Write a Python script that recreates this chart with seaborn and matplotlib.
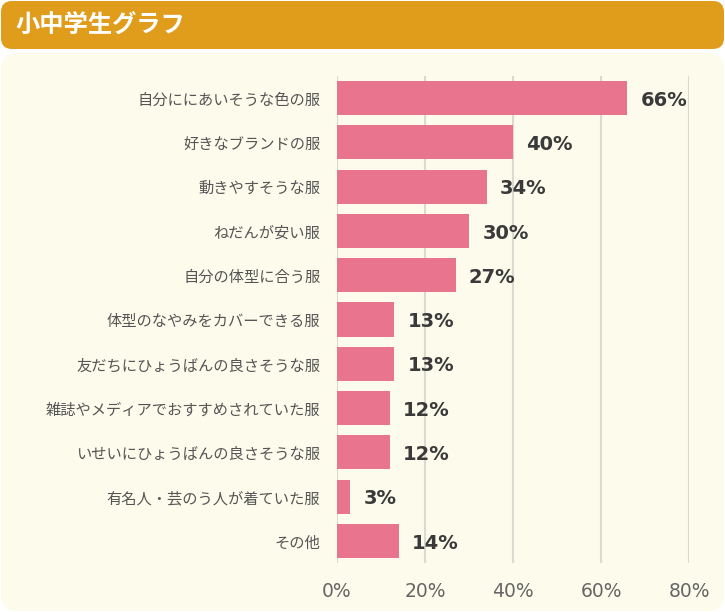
import matplotlib
matplotlib.use("Agg")
import matplotlib.pyplot as plt
from matplotlib.patches import FancyBboxPatch
import seaborn as sns
import pandas as pd

categories = [
    "自分ににあいそうな色の服",
    "好きなブランドの服",
    "動きやすそうな服",
    "ねだんが安い服",
    "自分の体型に合う服",
    "体型のなやみをカバーできる服",
    "友だちにひょうばんの良さそうな服",
    "雑誌やメディアでおすすめされていた服",
    "いせいにひょうばんの良さそうな服",
    "有名人・芸のう人が着ていた服",
    "その他",
]
values = [66, 40, 34, 30, 27, 13, 13, 12, 12, 3, 14]
xticks = [0, 20, 40, 60, 80]
xtick_labels = ["0%", "20%", "40%", "60%", "80%"]
title = "小中学生グラフ"

sns.set_theme(style="white")
plt.rcParams["font.family"] = ["Noto Sans CJK JP", "DejaVu Sans"]

W, H = 725, 612
fig = plt.figure(figsize=(W / 100, H / 100), dpi=100)
fig.patch.set_facecolor("white")

# header and panel
bg = fig.add_axes([0, 0, 1, 1])
bg.set_xlim(0, W)
bg.set_ylim(H, 0)
bg.axis("off")
bg.add_patch(FancyBboxPatch((1, 1), W - 2, 48, boxstyle="round,pad=0,rounding_size=11",
                            facecolor="#E09C1B", edgecolor="none"))
bg.add_patch(FancyBboxPatch((1, 53), W - 2, H - 54, boxstyle="round,pad=0,rounding_size=16",
                            facecolor="#FDFBEC", edgecolor="none"))
bg.text(15, 25, title, color="white", fontsize=17.5, fontweight="bold", va="center", ha="left")

df = pd.DataFrame({"category": categories, "value": values})

left = 337 / W
right = 689 / W
top = 1 - 76 / H
bottom = 1 - 563 / H
ax = fig.add_axes([left, bottom, right - left, top - bottom])
ax.set_facecolor("none")
sns.barplot(data=df, x="value", y="category", color="#E8748E", width=0.77,
            saturation=1, ax=ax, zorder=3, edgecolor="none")
ax.set_xlim(0, 80)
ax.set_xticks(xticks)
ax.set_xticklabels(xtick_labels, fontsize=13.5, color="#666666", family="DejaVu Sans")
ax.tick_params(axis="x", length=0, pad=14)
ax.tick_params(axis="y", length=0, pad=12, labelsize=11, labelcolor="#555555")
ax.grid(axis="x", color="#DCDAD0", linewidth=1.5, zorder=0)
ax.grid(axis="y", visible=False)
for s in ax.spines.values():
    s.set_visible(False)
ax.set_xlabel("")
ax.set_ylabel("")

for i, v in enumerate(values):
    ax.text(v + 3.0, i + 0.05, f"{v}%", va="center", ha="left", fontsize=14,
            fontweight="bold", color="#3A3A3A", zorder=4, family="DejaVu Sans")

fig.savefig("out.png", dpi=100, facecolor="white")
